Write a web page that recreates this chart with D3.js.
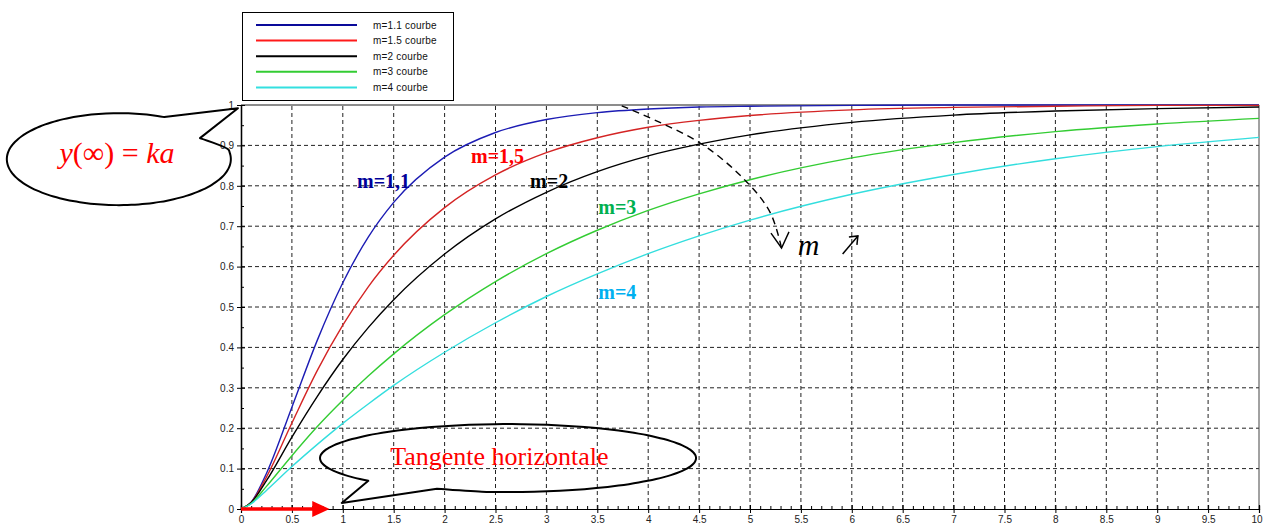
<!DOCTYPE html>
<html><head><meta charset="utf-8">
<script src="https://cdn.jsdelivr.net/npm/d3@7/dist/d3.min.js"></script>
<style>body{margin:0;background:#fff}svg{display:block}</style>
</head><body>
<svg id="c" width="1263" height="529"></svg>
<script>
// ---- data ----
const times = [0,0.1,0.25,0.5,0.75,1,1.25,1.5,2,2.5,3,3.5,4,4.5,5,6,7,8,9,10];
const m11 = [0,0.017,0.088,0.252,0.418,0.560,0.673,0.759,0.871,0.932,0.964,0.981,0.990,0.995,0.997,0.999,1.0,1.0,1.0,1.0];
const m15 = [0,0.016,0.079,0.213,0.343,0.455,0.550,0.628,0.746,0.827,0.882,0.919,0.945,0.962,0.974,0.988,0.994,0.997,0.999,0.999];
const m2  = [0,0.016,0.070,0.178,0.279,0.370,0.449,0.518,0.631,0.718,0.784,0.835,0.874,0.903,0.926,0.957,0.975,0.985,0.991,0.995];
const m3  = [0,0.014,0.056,0.132,0.204,0.269,0.329,0.384,0.481,0.563,0.632,0.690,0.739,0.780,0.815,0.869,0.907,0.934,0.953,0.967];
const m4  = [0,0.013,0.046,0.105,0.160,0.212,0.260,0.306,0.388,0.461,0.526,0.582,0.632,0.676,0.715,0.779,0.828,0.867,0.897,0.920];
const legendLabels = ["m=1.1 courbe","m=1.5 courbe","m=2 courbe","m=3 courbe","m=4 courbe"];
const curveLabels = ["m=1,1","m=1,5","m=2","m=3","m=4"];
const xTickLabels = ["0","0.5","1","1.5","2","2.5","3","3.5","4","4.5","5","5.5","6","6.5","7","7.5","8","8.5","9","9.5","10"];
const yTickLabels = ["0","0.1","0.2","0.3","0.4","0.5","0.6","0.7","0.8","0.9","1"];

// ---- styles / layout ----
const series = [m11, m15, m2, m3, m4];
const lineColors = ["#1c1cb4","#d42424","#000000","#33cc33","#33dede"];
const legendColors = ["#0a0a9a","#ff1a1a","#000000","#33cc33","#33e0e0"];
const labelColors = ["#000099","#ff0000","#000000","#00b050","#00b0f0"];
const labelPos = [[1.14,0.795],[2.26,0.856],[2.84,0.795],[3.51,0.730],[3.51,0.520]];

const svg = d3.select("#c");
const x = d3.scaleLinear().domain([0,10]).range([241,1259]);
const y = d3.scaleLinear().domain([0,1]).range([509,105]);

const xMajor = xTickLabels.map(Number);
const yMajor = yTickLabels.map(Number);
const xMinor = d3.range(0,100.5,1).map(d=>d/10).filter(d=>Math.abs(d*2-Math.round(d*2))>1e-6);
const yMinor = d3.range(0,20.5,1).map(d=>d/20).filter(d=>Math.abs(d*10-Math.round(d*10))>1e-6);

// grid
const g = svg.append("g");
g.selectAll("line.vg").data(xMajor.filter(d=>d>0&&d<10)).join("line")
  .attr("x1",d=>x(d)).attr("x2",d=>x(d)).attr("y1",y(0)).attr("y2",y(1))
  .attr("stroke","#222").attr("stroke-width",1).attr("stroke-dasharray","4,3");
g.selectAll("line.hg").data(yMajor.filter(d=>d>0&&d<1)).join("line")
  .attr("x1",x(0)).attr("x2",x(10)).attr("y1",d=>y(d)).attr("y2",d=>y(d))
  .attr("stroke","#222").attr("stroke-width",1).attr("stroke-dasharray","4,3");

// frame top/right
svg.append("line").attr("x1",x(0)).attr("x2",x(10)).attr("y1",y(1)).attr("y2",y(1)).attr("stroke","#666").attr("stroke-width",1.5);
svg.append("line").attr("x1",x(10)).attr("x2",x(10)).attr("y1",y(1)).attr("y2",y(0)).attr("stroke","#444").attr("stroke-width",1);

// axes
const fontAx = "Liberation Sans, Arial, sans-serif";
const xAx = svg.append("g").attr("transform",`translate(0,${y(0)})`)
  .call(d3.axisBottom(x).tickValues(xMajor).tickSize(4).tickFormat((d,i)=>xTickLabels[i]));
const xAxIn = svg.append("g").attr("transform",`translate(0,${y(0)})`)
  .call(d3.axisBottom(x).tickValues(xMajor).tickSize(-4).tickFormat(""));
const xAxMin = svg.append("g").attr("transform",`translate(0,${y(0)})`)
  .call(d3.axisBottom(x).tickValues(xMinor).tickSize(-3).tickFormat(""));
const yAx = svg.append("g").attr("transform",`translate(${x(0)},0)`)
  .call(d3.axisLeft(y).tickValues(yMajor).tickSize(4).tickFormat((d,i)=>yTickLabels[i]));
const yAxIn = svg.append("g").attr("transform",`translate(${x(0)},0)`)
  .call(d3.axisLeft(y).tickValues(yMajor).tickSize(-4).tickFormat(""));
const yAxMin = svg.append("g").attr("transform",`translate(${x(0)},0)`)
  .call(d3.axisLeft(y).tickValues(yMinor).tickSize(-3).tickFormat(""));
[xAx,xAxIn,xAxMin,yAx,yAxIn,yAxMin].forEach(a=>{
  a.selectAll(".domain").attr("stroke","#000").attr("stroke-width",1.2);
  a.selectAll(".tick line").attr("stroke","#000");
  a.selectAll(".tick text").attr("font-family",fontAx).attr("font-size",10).attr("fill","#222");
});
xAx.selectAll(".tick text").attr("dy","0.65em").attr("y",7);
xAx.selectAll(".tick text").filter(d=>d===10).attr("text-anchor","end").attr("x",3);
yAx.selectAll(".tick text").attr("x",-7);

// curves
const line = d3.line().x((d,i)=>x(times[i])).y(d=>y(d)).curve(d3.curveMonotoneX);
svg.selectAll("path.crv").data(series).join("path")
  .attr("d",d=>line(d)).attr("fill","none")
  .attr("stroke",(d,i)=>lineColors[i]).attr("stroke-width",1.4);

// curve labels
svg.selectAll("text.cl").data(curveLabels).join("text")
  .attr("x",(d,i)=>x(labelPos[i][0])).attr("y",(d,i)=>y(labelPos[i][1]))
  .attr("font-family","Liberation Serif, Times New Roman, serif").attr("font-weight","bold")
  .attr("font-size",20).attr("fill",(d,i)=>labelColors[i]).text(d=>d);

// legend
const lg = svg.append("g");
lg.append("rect").attr("x",242.5).attr("y",12.5).attr("width",211).attr("height",88)
  .attr("fill","#fff").attr("stroke","#000").attr("stroke-width",1);
legendLabels.forEach((t,i)=>{
  const yy = 25 + i*15.6;
  lg.append("line").attr("x1",256).attr("x2",357).attr("y1",yy).attr("y2",yy)
    .attr("stroke",legendColors[i]).attr("stroke-width",2);
  lg.append("text").attr("x",373).attr("y",yy+3.5).attr("font-family",fontAx)
    .attr("font-size",10).attr("fill","#111").attr("letter-spacing",0.2).text(t);
});

// ---- annotations (data coordinates) ----
// callout builder: explicit ellipse (center, radii in px), tail from angle a1 -> tip -> inner point -> angle a2
function callout(c){
  const cx = x(c.center[0]), cy = y(c.center[1]);
  const pt = a => [cx + c.rx*Math.cos(a*Math.PI/180), cy + c.ry*Math.sin(a*Math.PI/180)];
  const P1 = pt(c.a1);
  const pts = [];
  const span = c.dir>0 ? ((c.a1 - c.a2 + 720) % 360) : -((c.a2 - c.a1 + 720) % 360);
  for(let k=0;k<=80;k++) pts.push(pt(c.a2 + span*k/80));
  let d = `M${P1[0]},${P1[1]} L${x(c.tip[0])},${y(c.tip[1])} L${x(c.inner[0])},${y(c.inner[1])} `;
  d += d3.line().curve(d3.curveCatmullRom)([[x(c.inner[0]),y(c.inner[1])], ...pts]).slice(1).replace(/^[^C]*/,"");
  return d + "Z";
}
// y(inf) callout
const c1 = {center:[-1.2,0.866], rx:112, ry:46, a1:-66, a2:-12, dir:1, tip:[-0.03,0.992], inner:[-0.403,0.918]};
svg.append("path").attr("d",callout(c1))
  .attr("fill","none").attr("stroke","#000").attr("stroke-width",2).attr("stroke-linejoin","round");
const t1 = svg.append("text").attr("x",x(-1.218)).attr("y",y(0.857)).attr("text-anchor","middle")
  .attr("font-family","Liberation Serif, Times New Roman, serif").attr("font-size",30).attr("fill","#ff0000");
t1.append("tspan").attr("font-style","italic").text("y");
t1.append("tspan").text("(∞) = ");
t1.append("tspan").attr("font-style","italic").text("ka");

// Tangente callout
const c2 = {center:[2.623,0.126], rx:188, ry:34, a1:138, a2:98, dir:-1, tip:[0.99,0.015], inner:[1.925,0.050]};
svg.append("path").attr("d",callout(c2))
  .attr("fill","none").attr("stroke","#000").attr("stroke-width",2).attr("stroke-linejoin","round");
svg.append("text").attr("x",x(1.465)).attr("y",y(0.109))
  .attr("font-family","Liberation Serif, Times New Roman, serif").attr("font-size",26)
  .attr("fill","#ff0000").text("Tangente horizontale");

// red horizontal tangent arrow
svg.append("line").attr("x1",x(0)).attr("x2",x(0.74)).attr("y1",y(0)).attr("y2",y(0))
  .attr("stroke","#ff0000").attr("stroke-width",3.5);
svg.append("path")
  .attr("d",`M${x(0.70)},${y(0)-8} L${x(0.87)},${y(0)} L${x(0.70)},${y(0)+8} Z`)
  .attr("fill","#ff0000");

// dashed arrow showing m increasing
const arrowPts = [[3.74,0.998],[4.51,0.906],[4.97,0.809],[5.20,0.733],[5.31,0.646]];
svg.append("path").attr("d",d3.line().x(d=>x(d[0])).y(d=>y(d[1])).curve(d3.curveCatmullRom)(arrowPts))
  .attr("fill","none").attr("stroke","#000").attr("stroke-width",1.4).attr("stroke-dasharray","7,5");
const head = [[5.206,0.683],[5.31,0.646],[5.383,0.686]];
svg.append("path").attr("d",d3.line().x(d=>x(d[0])).y(d=>y(d[1]))(head))
  .attr("fill","none").attr("stroke","#000").attr("stroke-width",1.4);
svg.append("text").attr("x",x(5.47)).attr("y",y(0.629))
  .attr("font-family","Liberation Serif, Times New Roman, serif").attr("font-style","italic")
  .attr("font-size",30).attr("fill","#000").text("m");
// small up-right arrow
const ua = [[5.91,0.631],[6.06,0.676]];
svg.append("line").attr("x1",x(ua[0][0])).attr("y1",y(ua[0][1])).attr("x2",x(ua[1][0])).attr("y2",y(ua[1][1]))
  .attr("stroke","#000").attr("stroke-width",1.5);
svg.append("path").attr("d",`M${x(ua[1][0])-9},${y(ua[1][1])+1} L${x(ua[1][0])},${y(ua[1][1])} L${x(ua[1][0])-1},${y(ua[1][1])+9}`)
  .attr("fill","none").attr("stroke","#000").attr("stroke-width",1.5);
</script>
</body></html>
